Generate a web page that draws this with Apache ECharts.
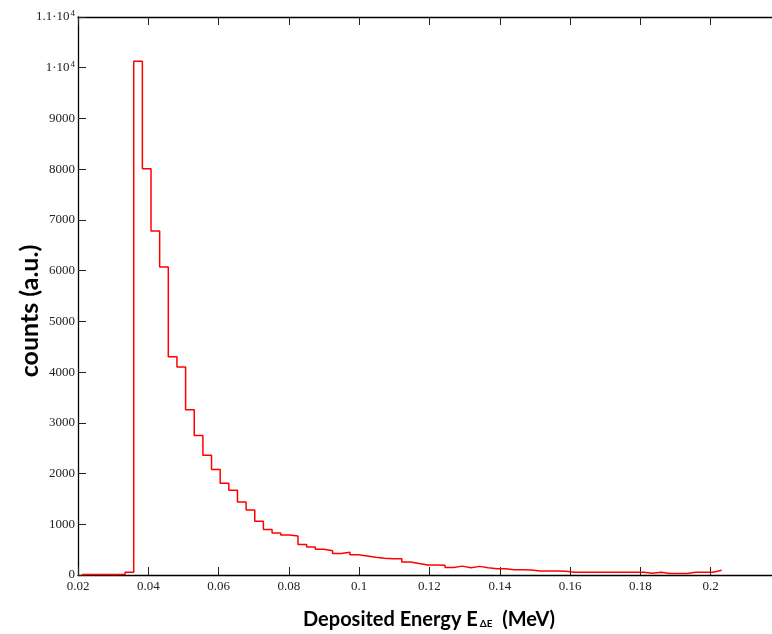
<!DOCTYPE html>
<html>
<head>
<meta charset="utf-8">
<script src="https://cdn.jsdelivr.net/npm/echarts@6/dist/echarts.min.js"></script>
<style>html,body{margin:0;padding:0;background:#fff}#c{width:772px;height:634px}</style>
</head>
<body>
<div id="c"></div>
<script>
// Histogram definition
const binStart = 0.02109;
const binWidth = 0.00246;
const counts = [12,12,12,12,12,55,
  10130,8010,6780,6070,4300,4100,3260,2750,2360,2080,
  1810,1670,1440,1280,1060,895,830,790,770,600,
  552,506,478,424,447,398,375,348,328,322,
  318,258,225,195,195,190,150,175,145,170,
  145,125,125,105,105,100,80,80,78,75,
  53,53,53,53,53,53,53,53,53,33,53,30,30,30,55,55,55,92];
const xTickValues = [0.02,0.04,0.06,0.08,0.1,0.12,0.14,0.16,0.18,0.2];
const xTickLabels = ['0.02','0.04','0.06','0.08','0.1','0.12','0.14','0.16','0.18','0.2'];
const yTickValues = [0,1000,2000,3000,4000,5000,6000,7000,8000,9000,10000,11000];
const yTickLabels = ['0','1000','2000','3000','4000','5000','6000','7000','8000','9000','1\u00b710{sup|4}','1.1\u00b710{sup|4}'];

const pts = counts.map((v,i)=>[binStart + i*binWidth, v]);
pts.push([binStart + counts.length*binWidth, counts[counts.length-1]]);

const labelFont = {fontFamily:'Liberation Serif', fontSize:13, color:'#222'};
const chart = echarts.init(document.getElementById('c'), null, {renderer:'canvas'});
chart.setOption({
  animation:false,
  backgroundColor:'#fff',
  grid:{left:78, top:17, right:0, bottom:59, containLabel:false},
  xAxis:[{
    type:'value', min:0.02, max:0.21744, position:'bottom',
    axisLine:{show:true, onZero:false, lineStyle:{color:'#000', width:1.3}},
    axisTick:{show:true, inside:true, length:8, customValues:xTickValues, lineStyle:{color:'#222', width:1}},
    axisLabel:{show:true, margin:5, customValues:xTickValues, ...labelFont,
      formatter:(v)=>{const i=xTickValues.findIndex(t=>Math.abs(t-v)<1e-9);return i>=0?xTickLabels[i]:'';}},
    splitLine:{show:false}
  },{
    type:'value', min:0.02, max:0.21744, position:'top',
    axisLine:{show:true, onZero:false, lineStyle:{color:'#000', width:1.3}},
    axisTick:{show:true, inside:true, length:8, customValues:xTickValues, lineStyle:{color:'#222', width:1}},
    axisLabel:{show:false}, splitLine:{show:false}
  }],
  yAxis:{
    type:'value', min:0, max:11000, interval:1000,
    axisLine:{show:true, onZero:false, lineStyle:{color:'#000', width:1.3}},
    axisTick:{show:true, inside:true, length:8, lineStyle:{color:'#222', width:1}},
    axisLabel:{show:true, margin:3, ...labelFont, lineHeight:16,
      formatter:(v)=>{const i=yTickValues.indexOf(v);return i>=0?yTickLabels[i]:'';},
      rich:{sup:{fontFamily:'Liberation Serif', fontSize:9, color:'#222', verticalAlign:'top', lineHeight:12, padding:[0,0,6,1]}}},
    splitLine:{show:false}
  },
  graphic:[
    {type:'text', x:30, y:311, rotation:Math.PI/2,
     style:{text:'counts (a.u.)', font:'bold 25px Lato', fill:'#000', align:'center', verticalAlign:'middle'}},
    {type:'text', x:429, y:620,
     style:{text:'Deposited Energy E{sub|\u0394E}  (MeV)', font:'bold 20px Lato', fill:'#000', align:'center', verticalAlign:'middle',
       rich:{sub:{font:'bold 10px Lato', fill:'#000', padding:[8,0,0,2]}}}}
  ],
  series:[{
    type:'line', step:'end', data:pts, showSymbol:false, symbol:'none',
    lineStyle:{color:'#ff0000', width:1.5}, clip:true
  }]
});
</script>
</body>
</html>
